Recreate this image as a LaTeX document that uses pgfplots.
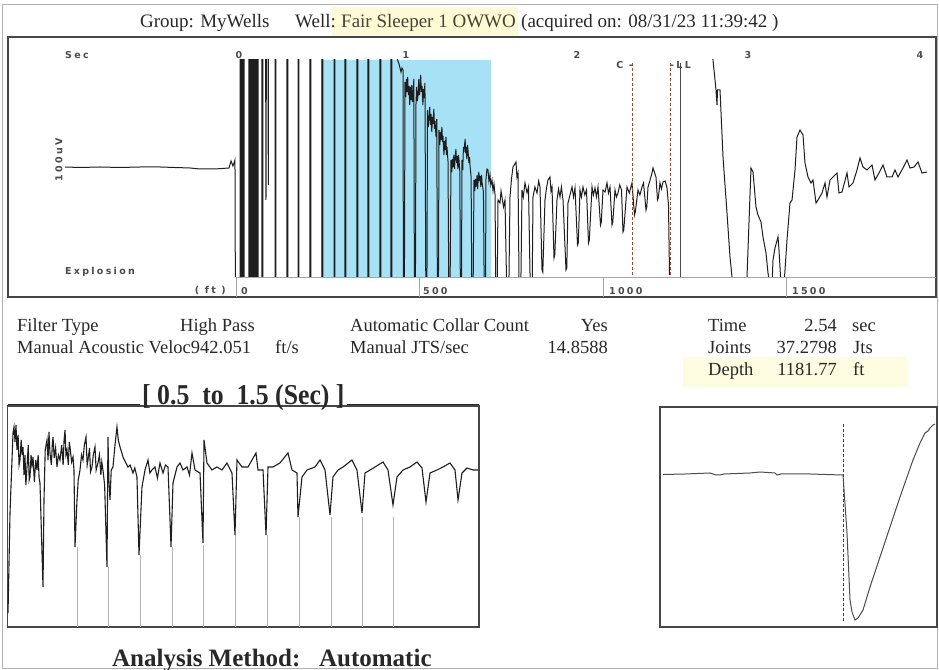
\documentclass[border=0pt]{standalone}
\usepackage{pgfplots}
\pgfplotsset{compat=1.18}
\usepackage{graphicx}
\usepackage{fontspec}
\setmainfont{Liberation Serif}
\newfontfamily\labfont{DejaVu Sans}[LetterSpace=24]
\definecolor{sky}{RGB}{166,225,245}
\definecolor{hl}{RGB}{255,250,214}
\definecolor{hltwo}{RGB}{254,252,224}
\definecolor{txt}{RGB}{40,40,40}
\definecolor{sig}{RGB}{30,30,30}
\definecolor{frm}{RGB}{70,70,70}
\definecolor{mrk}{RGB}{150,75,55}
\definecolor{lab}{RGB}{75,75,75}
\newcommand{\hfont}{\fontsize{19bp}{22bp}\selectfont}
\newcommand{\ifont}{\fontsize{18.5bp}{22bp}\selectfont}
\newcommand{\bfont}{\fontsize{25bp}{28bp}\selectfont\bfseries}
\newcommand{\sfont}{\labfont\bfseries\fontsize{9.5bp}{11bp}\selectfont}
\begin{document}
\begin{tikzpicture}
\begin{scope}[x=1bp,y=1bp]
\fill[white] (0,0) rectangle (939,670);
\draw[gray!60, line width=1bp] (2.5,2) rectangle (937.5,665);
\fill[hl] (332,634) rectangle (518,663);
\fill[hltwo] (683,283) rectangle (907,313);
\end{scope}

% ---------- main signal ----------
\begin{axis}[at={(8bp,393bp)}, anchor=south west, scale only axis, width=928bp, height=217bp,
  xmin=-1.3333, xmax=4.0936, ymin=-110, ymax=107, hide axis, clip=true]
\addplot[fill=sky, draw=none] coordinates {(0.497,-110) (0.497,107) (1.491,107) (1.491,-110)};
\addplot[sig, line width=1bp] coordinates {
(-1.000,0) (-0.912,-0.5) (-0.795,0) (-0.678,-0.5) (-0.561,0) (-0.444,0) (-0.357,-0.5) (-0.269,-1) (-0.211,-2) (-0.123,-2) (-0.041,-1) (-0.029,6) (-0.018,1) (-0.006,7) (-0.003,-163)
(0.0234,-163) (0.0234,167) (0.0292,167) (0.0292,-163) (0.0351,-163) (0.0351,167) (0.0409,167) (0.0409,-163) (0.0468,-163) (0.0468,167)
(0.0760,167) (0.0760,-163) (0.0819,-163) (0.0819,167) (0.0877,167) (0.0877,-163) (0.0936,-163) (0.0936,167) (0.0994,167) (0.0994,-163) (0.1053,-163) (0.1053,167) (0.1111,167) (0.1111,-163) (0.1170,-163) (0.1170,167) (0.1228,167) (0.1228,-163) (0.1287,-163) (0.1287,167)
(0.1520,167) (0.1520,-163) (0.1567,-163) (0.1567,167)
(0.1725,167) (0.1754,-33) (0.1784,167) (0.1871,167) (0.1889,-18) (0.1906,167)
(0.2281,167) (0.2281,-163) (0.2327,-163) (0.2327,167)
(0.2982,167) (0.2982,-163) (0.3029,-163) (0.3029,167)
(0.3626,167) (0.3626,-163) (0.3673,-163) (0.3673,167)
(0.4327,167) (0.4327,-163) (0.4374,-163) (0.4374,167)
(0.5029,167) (0.5029,-163) (0.5076,-163) (0.5076,167)
(0.5731,167) (0.5731,-163) (0.5778,-163) (0.5778,167)
(0.6374,167) (0.6374,-163) (0.6421,-163) (0.6421,167)
(0.7076,167) (0.7076,-163) (0.7123,-163) (0.7123,167)
(0.7719,167) (0.7719,-163) (0.7766,-163) (0.7766,167)
(0.8421,167) (0.8421,-163) (0.8468,-163) (0.8468,167)
(0.9064,167) (0.9064,-163) (0.9111,-163) (0.9111,167)
(0.9357,167) (0.9415,109) (0.9532,103) (0.9649,95) (0.9708,99) (0.9766,97) (0.9795,-163) (0.9842,-163)
(0.9883,85) (0.9930,70) (0.9965,88) (1.0000,75) (1.0040,90) (1.0080,72) (1.0117,81) (1.0160,62) (1.0200,80) (1.0234,67) (1.0280,82) (1.0320,65) (1.0351,71) (1.0400,88) (1.0439,-163) (1.0485,-163)
(1.0526,63) (1.0560,80) (1.0600,66) (1.0643,71) (1.0690,88) (1.0730,72) (1.0760,78) (1.0800,92) (1.0840,75) (1.0877,81) (1.0930,62) (1.0960,78) (1.0994,69) (1.1050,84) (1.1111,-163) (1.1158,-163)
(1.1199,57) (1.1240,40) (1.1287,49) (1.1330,60) (1.1370,42) (1.1404,53) (1.1450,35) (1.1490,50) (1.1520,43) (1.1570,58) (1.1610,38) (1.1637,46) (1.1700,30) (1.1740,48) (1.1784,-163) (1.1830,-163)
(1.1871,37) (1.1920,22) (1.1960,35) (1.1988,27) (1.2040,40) (1.2080,25) (1.2105,31) (1.2160,12) (1.2200,26) (1.2222,17) (1.2280,30) (1.2310,12) (1.2339,20) (1.2400,5) (1.2456,-163) (1.2503,-163)
(1.2573,7) (1.2620,-5) (1.2660,8) (1.2690,0) (1.2740,12) (1.2780,-2) (1.2807,7) (1.2860,18) (1.2900,4) (1.2924,11) (1.2980,-2) (1.3010,12) (1.3041,7) (1.3090,-5) (1.3129,-163) (1.3175,-163)
(1.3216,7) (1.3260,-3) (1.3300,20) (1.3333,15) (1.3400,28) (1.3430,14) (1.3450,20) (1.3500,8) (1.3540,22) (1.3567,17) (1.3620,4) (1.3660,10) (1.3684,2) (1.3750,-10) (1.3801,-163) (1.3848,-163)
(1.3918,-13) (1.3960,-24) (1.4000,-12) (1.4035,-20) (1.4100,-8) (1.4130,-22) (1.4152,-16) (1.4200,-5) (1.4240,-14) (1.4269,-9) (1.4320,-20) (1.4360,-8) (1.4386,-15) (1.4470,-25) (1.4532,-163) (1.4579,-163)
(1.4620,-11) (1.4680,-2) (1.4737,-3) (1.4790,-14) (1.4854,-8) (1.4900,-18) (1.4971,-13) (1.5030,-24) (1.5088,-17) (1.5150,-28) (1.5205,-163) (1.5251,-163)
(1.5322,-33) (1.5439,-36) (1.5500,-24) (1.5556,-30) (1.5643,-40) (1.5731,-33) (1.5877,-163) (1.5924,-163) (1.6023,-30) (1.6110,-12) (1.6199,0) (1.6374,5) (1.6430,-10) (1.6491,-6) (1.6579,-163) (1.6626,-163) (1.6725,-23) (1.6800,-30) (1.6901,-16) (1.7018,-26) (1.7105,-20) (1.7251,-163) (1.7298,-163) (1.7368,-30) (1.7480,-20) (1.7602,-26) (1.7700,-14) (1.7778,-20) (1.7895,-103) (1.7942,-105) (1.8070,-33) (1.8150,-22) (1.8246,-13) (1.8363,-10) (1.8420,-24) (1.8480,-20) (1.8596,-91) (1.8643,-88) (1.8772,-33) (1.8860,-22) (1.8947,-30) (1.9030,-20) (1.9123,-33) (1.9298,-103) (1.9345,-101) (1.9415,-36) (1.9530,-28) (1.9649,-20) (1.9740,-30) (1.9825,-21) (1.9971,-78) (2.0018,-76) (2.0117,-23) (2.0200,-30) (2.0292,-20) (2.0400,-28) (2.0497,-23) (2.0614,-76) (2.0661,-73) (2.0819,-20) (2.0900,-28) (2.0994,-21) (2.1080,-30) (2.1170,-20) (2.1316,-58) (2.1363,-55) (2.1462,-23) (2.1580,-25) (2.1696,-16) (2.1780,-26) (2.1871,-20) (2.1988,-58) (2.2035,-55) (2.2164,-23) (2.2250,-30) (2.2339,-26) (2.2440,-18) (2.2544,-23) (2.2632,-65) (2.2678,-63) (2.2865,-20) (2.3000,-26) (2.3158,-16) (2.3304,-48) (2.3351,-45) (2.3509,-23) (2.3620,-28) (2.3743,-20) (2.3830,-16) (2.3977,-43) (2.4023,-40) (2.4094,-20) (2.4200,-14) (2.4327,-6) (2.4386,-1) (2.4561,-10) (2.4649,-33) (2.4696,-31) (2.4795,-16) (2.4880,-22) (2.4971,-15) (2.5100,-14) (2.5205,-21) (2.5292,-38) (2.5351,-108)
};
\addplot[sig, line width=1bp] coordinates {
(2.7865,127) (2.7895,107) (2.8070,77) (2.8129,62) (2.8158,77) (2.8304,77) (2.8480,10) (2.8713,-46) (2.8889,-90) (2.9006,-110) (2.9064,-133) (2.9766,-133) (2.9883,-110) (3.0117,-1) (3.0234,-5) (3.0409,-40) (3.0526,-48) (3.0702,-55) (3.0819,-70) (3.0994,-86) (3.1111,-106) (3.1228,-118) (3.1345,-118) (3.1404,-93) (3.1520,-81) (3.1696,-70) (3.1754,-83) (3.1871,-118) (3.2047,-118) (3.2222,-73) (3.2398,-36) (3.2515,-33) (3.2690,-3) (3.2807,30) (3.2982,37) (3.3158,32) (3.3275,4) (3.3450,-10) (3.3626,-16) (3.3743,-13) (3.3918,-36) (3.4035,-33) (3.4269,-26) (3.4444,-16) (3.4561,-30) (3.4737,-13) (3.4912,-10) (3.5146,-6) (3.5263,-26) (3.5439,-25) (3.5731,-6) (3.5848,-20) (3.6082,-16) (3.6316,-3) (3.6491,9) (3.6667,0) (3.6901,-3) (3.7193,2) (3.7368,-13) (3.7602,-6) (3.7836,2) (3.8070,-10) (3.8363,-10) (3.8538,-3) (3.8713,-10) (3.9006,-1) (3.9240,7) (3.9415,-1) (3.9649,0) (3.9883,5) (4.0117,-6) (4.0409,-5)
};
\end{axis}

% ---------- main frame ----------
\begin{axis}[at={(8bp,373bp)}, anchor=south west, scale only axis, width=928bp, height=260bp,
  xmin=-1.3333, xmax=4.0936, ymin=-130, ymax=130, xtick=\empty, ytick=\empty,
  axis line style={draw=frm, line width=1.3bp}]
\addplot[mrk, densely dashed, line width=0.9bp] coordinates {(2.3158,104) (2.3158,-110)};
\addplot[mrk, densely dashed, line width=0.9bp] coordinates {(2.5380,104) (2.5380,-110)};
\addplot[black!70, line width=1bp] coordinates {(2.5965,104) (2.5965,-110)};
\end{axis}

% ---------- lower left ----------
\begin{axis}[at={(7.5bp,43bp)}, anchor=south west, scale only axis, width=471.5bp, height=221bp,
  xmin=0.5, xmax=1.5, ymin=-157, ymax=64, xtick=\empty, ytick=\empty,
  axis line style={draw=frm, line width=1.3bp}, unbounded coords=jump]
\addplot[gray!60, line width=0.8bp] coordinates {
(0.6474,-77) (0.6474,-157) (0.68,nan) (0.7131,-97) (0.7131,-157) (0.75,nan) (0.7810,-85) (0.7810,-157) (0.81,nan) (0.8489,-77) (0.8489,-157) (0.88,nan) (0.9146,-75) (0.9146,-157) (0.95,nan) (0.9825,-65) (0.9825,-157) (1.01,nan) (1.0504,-65) (1.0504,-157) (1.08,nan) (1.1182,-47) (1.1182,-157) (1.15,nan) (1.1861,-47) (1.1861,-157) (1.22,nan) (1.2519,-47) (1.2519,-157) (1.28,nan) (1.3176,-47) (1.3176,-157)
};
\addplot[sig, line width=1.1bp] coordinates {
(0.5011,-143) (0.5053,-43) (0.5117,37) (0.5138,43) (0.5160,28) (0.5180,45) (0.5201,20) (0.5225,35) (0.5245,5) (0.5265,10) (0.5290,30) (0.5310,15) (0.5329,23) (0.5350,-5) (0.5370,15) (0.5390,-15) (0.5414,3) (0.5440,25) (0.5460,-10) (0.5477,-7) (0.5500,15) (0.5520,5) (0.5541,13) (0.5570,-12) (0.5600,10) (0.5626,0) (0.5650,15) (0.5670,-8) (0.5689,-13)
(0.5753,-117) (0.5774,-30) (0.5800,20) (0.5838,30) (0.5860,10) (0.5880,38) (0.5901,17) (0.5930,5) (0.5950,25) (0.5965,33) (0.5990,12) (0.6020,22) (0.6050,3) (0.6080,15) (0.6113,10) (0.6150,25) (0.6180,5) (0.6200,30) (0.6220,40) (0.6240,15) (0.6262,20) (0.6290,5) (0.6310,28) (0.6326,23) (0.6360,8) (0.6389,13) (0.6410,0)
(0.6432,-77) (0.6474,-30) (0.6500,-10) (0.6538,0) (0.6570,15) (0.6601,10) (0.6630,25) (0.6665,33) (0.6690,5) (0.6707,10) (0.6740,22) (0.6760,-2) (0.6792,3) (0.6820,15) (0.6856,23) (0.6880,0) (0.6919,7) (0.6950,15) (0.6980,-5) (0.7000,8) (0.7025,0) (0.7060,-15)
(0.7110,-97) (0.7131,33) (0.7150,-10) (0.7174,-30) (0.7200,0) (0.7237,3) (0.7280,25) (0.7322,43) (0.7350,30) (0.7386,23) (0.7420,18) (0.7449,13) (0.7500,8) (0.7555,3) (0.7600,5) (0.7661,-3) (0.7700,2) (0.7746,-7)
(0.7789,-85) (0.7852,-17) (0.7916,0) (0.7980,10) (0.8020,-3) (0.8064,0) (0.8128,3) (0.8180,-8) (0.8234,7) (0.8298,-3) (0.8350,5) (0.8404,3) (0.8468,-77) (0.8510,-13) (0.8595,3) (0.8659,7) (0.8722,0) (0.8807,3) (0.8860,-5) (0.8913,17) (0.8977,0) (0.9083,-3) (0.9146,-73) (0.9168,30) (0.9231,7) (0.9337,0) (0.9443,3) (0.9549,0) (0.9655,7) (0.9761,-3) (0.9825,-65) (0.9867,10) (0.9973,3) (1.0101,3) (1.0270,17) (1.0313,0) (1.0419,0) (1.0483,-65) (1.0525,3) (1.0631,3) (1.0779,7) (1.0949,17) (1.1034,0) (1.1140,-3) (1.1161,-47) (1.1246,-7) (1.1352,0) (1.1522,3) (1.1628,10) (1.1734,0) (1.1840,-45) (1.1903,-7) (1.2010,0) (1.2116,3) (1.2306,10) (1.2412,0) (1.2519,-43) (1.2582,-3) (1.2688,0) (1.2794,3) (1.2964,8) (1.3070,0) (1.3176,-35) (1.3261,-7) (1.3388,0) (1.3536,3) (1.3685,8) (1.3791,2) (1.3876,-32) (1.3961,-3) (1.4109,0) (1.4236,3) (1.4385,7) (1.4491,0) (1.4555,-30) (1.4639,-3) (1.4745,2) (1.4873,0) (1.4979,0)
};
\end{axis}

% ---------- lower right ----------
\begin{axis}[at={(660bp,43bp)}, anchor=south west, scale only axis, width=277bp, height=220bp,
  xmin=0, xmax=277, ymin=-153, ymax=67, xtick=\empty, ytick=\empty,
  axis line style={draw=frm, line width=1.3bp}]
\addplot[mrk!70!black, densely dashed, line width=1bp] coordinates {(183,50) (183,-147)};
\addplot[black!70, line width=1bp] coordinates {
(3,-0.5) (25,0) (50,1) (56,-1) (60,-1) (64,0) (90,1) (100,2) (115,1) (117,-1) (121,0) (150,0) (182,-1) (183,-1) (187,-59) (190,-126) (192,-138) (195,-146) (198,-144) (203,-136) (210,-113) (220,-83) (230,-53) (240,-23) (247,-3) (253,14) (260,31) (265,41) (268,43) (270,46) (273,49) (275,50)
};
\end{axis}

\begin{scope}[x=1bp,y=1bp]
\draw[gray!70, line width=0.8bp] (236,393) -- (936,393);
\foreach \xx in {236,419,603,786} \draw[gray!70, line width=0.8bp] (\xx,393) -- (\xx,373);
\node[anchor=west, inner sep=0, text=lab, font=\sfont] at (65,615) {Sec};
\node[anchor=west, inner sep=0, text=lab, font=\sfont] at (65,398) {Explosion};
\node[rotate=90, inner sep=0, text=lab, font=\sfont] at (59,510) {100uV};
\foreach \xx/\ll in {239/0,406/1,577/2,748/3,920/4} \node[inner sep=0, text=lab, font=\sfont] at (\xx,615) {\ll};
\node[anchor=east, inner sep=0, text=lab, font=\sfont] at (226,379) {( ft )};
\foreach \xx/\ll in {241/0,423/500,609/1000,792/1500} \node[anchor=west, inner sep=0, text=lab, font=\sfont] at (\xx,379) {\ll};
\node[anchor=east, inner sep=0, text=lab, font=\sfont] at (633,605) {C -};
\node[anchor=west, inner sep=0, text=lab, font=\sfont] at (670,605) {-LL};

\node[anchor=base west, inner sep=0, text=txt, font=\hfont] at (140,642) {Group: MyWells};
\node[anchor=base west, inner sep=0, text=txt, font=\hfont] at (295,642) {Well:};
\node[anchor=base west, inner sep=0, text={rgb,255:red,70;green,68;blue,50}, font=\hfont] at (341,642) {Fair Sleeper 1 OWWO};
\node[anchor=base west, inner sep=0, text=txt, font=\hfont] at (521,642) {(acquired on: 08/31/23 11:39:42 )};

\node[anchor=base west, inner sep=0, text=txt, font=\ifont] at (17,339) {Filter Type};
\node[anchor=base west, inner sep=0, text=txt, font=\ifont] at (180,339) {High Pass};
\node[anchor=base west, inner sep=0, text=txt, font=\ifont] at (350,339) {Automatic Collar Count};
\node[anchor=base east, inner sep=0, text=txt, font=\ifont] at (608,339) {Yes};
\node[anchor=base west, inner sep=0, text=txt, font=\ifont] at (708,339) {Time};
\node[anchor=base east, inner sep=0, text=txt, font=\ifont] at (837,339) {2.54};
\node[anchor=base west, inner sep=0, text=txt, font=\ifont] at (852,339) {sec};
\node[anchor=base west, inner sep=0, text=txt, font=\ifont] at (17,317) {Manual Acoustic Veloc942.051};
\node[anchor=base west, inner sep=0, text=txt, font=\ifont] at (275,317) {ft/s};
\node[anchor=base west, inner sep=0, text=txt, font=\ifont] at (350,317) {Manual JTS/sec};
\node[anchor=base east, inner sep=0, text=txt, font=\ifont] at (608,317) {14.8588};
\node[anchor=base west, inner sep=0, text=txt, font=\ifont] at (708,317) {Joints};
\node[anchor=base east, inner sep=0, text=txt, font=\ifont] at (837,317) {37.2798};
\node[anchor=base west, inner sep=0, text=txt, font=\ifont] at (853,317) {Jts};
\node[anchor=base west, inner sep=0, text=txt, font=\ifont] at (708,295) {Depth};
\node[anchor=base east, inner sep=0, text=txt, font=\ifont] at (837,295) {1181.77};
\node[anchor=base west, inner sep=0, text=txt, font=\ifont] at (853,295) {ft};

\node[anchor=base west, inner sep=0, text=txt, font=\bfont] at (142,266) {\scalebox{1.03}[1.15]{[ 0.5\ \ to\ \ 1.5 (Sec) ]}};
\draw[txt, line width=1.3bp] (8,265.5) -- (140,265.5);
\draw[txt, line width=1.3bp] (347,265.5) -- (479,265.5);

\node[anchor=base west, inner sep=0, text=txt, font=\bfont] at (112,4) {Analysis Method:\ \ \ Automatic};
\end{scope}

\pgfresetboundingbox
\path[use as bounding box] (0bp,0bp) rectangle (939bp,670bp);
\end{tikzpicture}
\end{document}
